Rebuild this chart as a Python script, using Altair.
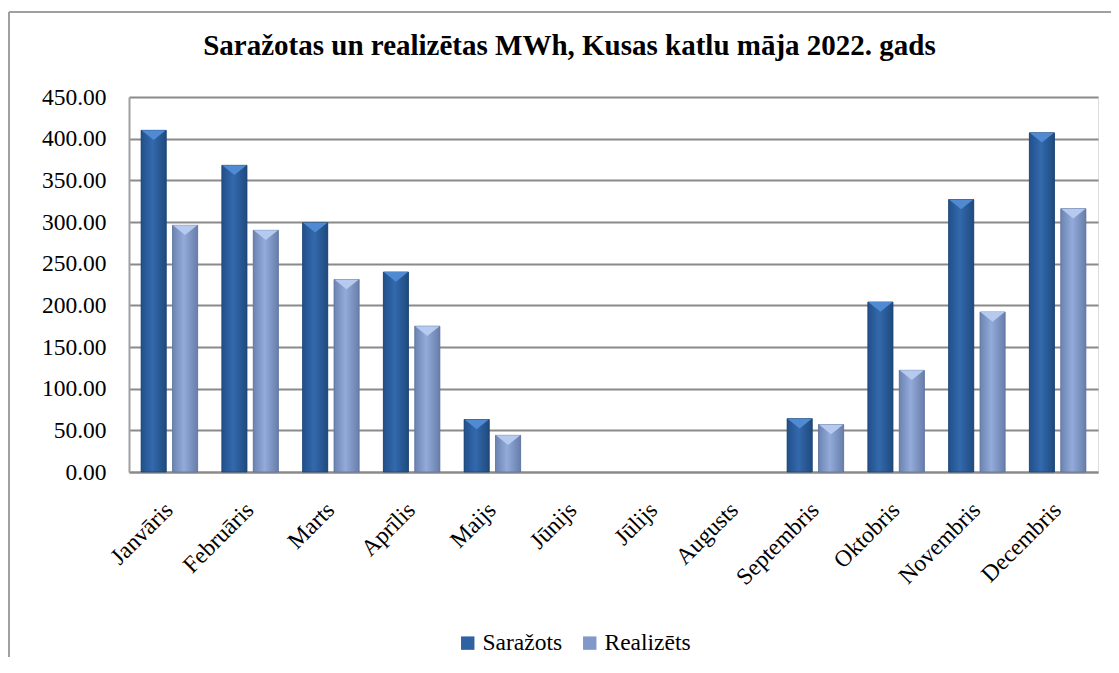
import altair as alt
import pandas as pd

months = ["Janvāris", "Februāris", "Marts", "Aprīlis", "Maijs", "Jūnijs",
          "Jūlijs", "Augusts", "Septembris", "Oktobris", "Novembris", "Decembris"]
sarazots = [410, 368, 299, 240, 63, None, None, None, 64, 204, 327, 407]
realizets = [296, 290, 231, 175, 44, None, None, None, 57, 122, 192, 316]
series = ["Saražots", "Realizēts"]
y_ticks = [0, 50, 100, 150, 200, 250, 300, 350, 400, 450]

rows = []
for m, s, r in zip(months, sarazots, realizets):
    rows.append({"month": m, "series": series[0], "value": s})
    rows.append({"month": m, "series": series[1], "value": r})
df = pd.DataFrame(rows)

FONT = "Liberation Serif"
FS = 23.5
W, H = 969, 375

x_enc = alt.X("month:N", sort=months, title=None,
              scale=alt.Scale(domain=months, paddingInner=0.3, paddingOuter=0.15),
              axis=alt.Axis(labelAngle=-45, labelAlign="right", labelBaseline="middle",
                            labelPadding=34, labelFont=FONT, labelFontSize=FS,
                            labelColor="#000000", ticks=False, domainColor="#8a8a8a",
                            domainWidth=2, labelLimit=300))
xo_enc = alt.XOffset("series:N", sort=series, scale=alt.Scale(domain=series, paddingInner=0.2))
y_enc = alt.Y("value:Q", title=None,
              scale=alt.Scale(domain=[0, 450], nice=False),
              axis=alt.Axis(values=y_ticks, format=".2f", labelFont=FONT, labelFontSize=FS,
                            labelColor="#000000", labelPadding=23, ticks=False,
                            domainColor="#a0a0a0", domainWidth=2,
                            grid=True, gridColor="#8a8a8a", gridWidth=2))

base = alt.Chart(df)

legend_layer = base.mark_bar().encode(
    x=x_enc, xOffset=xo_enc, y=y_enc,
    color=alt.Color("series:N", sort=series, title=None,
                    scale=alt.Scale(domain=series, range=["#2E62A2", "#8199C8"]),
                    legend=alt.Legend(orient="none", legendX=327, legendY=534,
                                      direction="horizontal", symbolType="square",
                                      symbolSize=180, symbolStrokeWidth=0,
                                      labelFont=FONT, labelFontSize=FS, labelColor="#000000",
                                      labelOffset=3, columnPadding=15, labelLimit=300)),
)

grad_s = alt.Gradient(gradient="linear", x1=0, x2=1, y1=0, y2=0,
                      stops=[alt.GradientStop(color="#22508A", offset=0),
                             alt.GradientStop(color="#3369AD", offset=0.45),
                             alt.GradientStop(color="#1F4A7E", offset=1)])
grad_r = alt.Gradient(gradient="linear", x1=0, x2=1, y1=0, y2=0,
                      stops=[alt.GradientStop(color="#6C83B0", offset=0),
                             alt.GradientStop(color="#92ABDA", offset=0.45),
                             alt.GradientStop(color="#687EAA", offset=1)])

s_data = base.transform_filter(alt.datum.series == series[0])
r_data = base.transform_filter(alt.datum.series == series[1])

s_layer = s_data.mark_bar(color=grad_s, stroke="#1d4474", strokeWidth=0.8).encode(
    x=x_enc, xOffset=xo_enc, y=y_enc)
r_layer = r_data.mark_bar(color=grad_r, stroke="#5f749e", strokeWidth=0.8).encode(
    x=x_enc, xOffset=xo_enc, y=y_enc)

TRI = "M-1,0 L1,0 L0,0.8 Z"
s_top = s_data.mark_point(shape=TRI, size=590, filled=True, opacity=1,
                          color="#4F8AD2", strokeWidth=0).encode(
    x=x_enc, xOffset=xo_enc, y=y_enc)
r_top = r_data.mark_point(shape=TRI, size=590, filled=True, opacity=1,
                          color="#B5CAEE", strokeWidth=0).encode(
    x=x_enc, xOffset=xo_enc, y=y_enc)

frame_top = alt.Chart(pd.DataFrame({"a": [0]})).mark_rule(
    color="#a0a0a0", strokeWidth=2).encode(
    x=alt.value(-120), x2=alt.value(1000), y=alt.value(-85))
frame_left = alt.Chart(pd.DataFrame({"a": [0]})).mark_rule(
    color="#a0a0a0", strokeWidth=2).encode(
    x=alt.value(-120), y=alt.value(-85), y2=alt.value(600))

chart = alt.layer(legend_layer, s_layer, r_layer, s_top, r_top, frame_top, frame_left).properties(
    width=W, height=H,
    title=alt.TitleParams("Saražotas un realizētas MWh, Kusas katlu māja 2022. gads",
                          font=FONT, fontSize=29, fontWeight="bold", color="#000000",
                          anchor="middle", dx=-44, offset=-50),
    autosize=alt.AutoSizeParams(type="none"),
    padding={"left": 121, "top": 89, "right": 13, "bottom": 185},
).configure_view(stroke=None).configure(background="#ffffff")

chart.save("out.html", embed_options={"renderer": "svg", "actions": False})
